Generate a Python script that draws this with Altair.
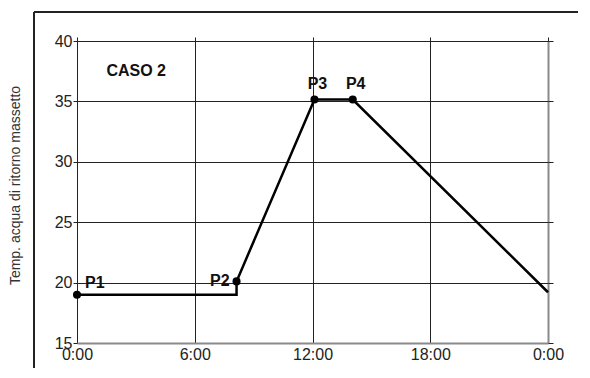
import altair as alt
import pandas as pd

# Curve (hours, temperature)
hours = [0, 8.13, 8.13, 12.1, 14.05, 24]
temps = [19, 19, 20.1, 35.15, 35.15, 19.2]

# Labelled points
pt_names = ["P1", "P2", "P3", "P4"]
pt_hours = [0, 8.13, 12.1, 14.05]
pt_temps = [19, 20.1, 35.15, 35.15]

x_ticks = [0, 6, 12, 18, 24]
x_labels = ["0:00", "6:00", "12:00", "18:00", "0:00"]
y_ticks = [15, 20, 25, 30, 35, 40]

case_label = "CASO 2"
case_hour, case_temp = 1.5, 37.5

FONT = "Liberation Sans, Arial, sans-serif"

line_df = pd.DataFrame({"h": hours, "t": temps})
pts_df = pd.DataFrame({"name": pt_names, "h": pt_hours, "t": pt_temps})
case_df = pd.DataFrame({"name": [case_label], "h": [case_hour], "t": [case_temp]})

label_expr = "{" + ",".join(f"'{v}':'{l}'" for v, l in zip(x_ticks, x_labels)) + "}[datum.value]"

xscale = alt.Scale(domain=[0, 24], nice=False, zero=False)
yscale = alt.Scale(domain=[15, 40], nice=False, zero=False)

grid_color = {"condition": {"test": "datum.value == 24 || datum.value == 15", "value": "#8a8a8a"}, "value": "#222222"}
grid_width = {"condition": {"test": "datum.value == 24 || datum.value == 15", "value": 2}, "value": 1}

line = alt.Chart(line_df).mark_line(color="black", strokeWidth=2.5).encode(
    x=alt.X("h:Q", scale=xscale, axis=alt.Axis(
        values=x_ticks, labelExpr=label_expr, grid=True, gridColor=grid_color, gridWidth=grid_width,
        gridOpacity=1, domain=False, ticks=False, labelPadding=3, labelFont=FONT, labelFontSize=16,
        labelColor="#222", title=None, labelFlush=False)),
    y=alt.Y("t:Q", scale=yscale, axis=alt.Axis(
        values=y_ticks, grid=True, gridColor=grid_color, gridWidth=grid_width, gridOpacity=1,
        domain=False, ticks=True, tickSize=4, tickColor="#222", labelPadding=1, labelFont=FONT,
        labelFontSize=16, labelColor="#222", title="Temp. acqua di ritorno massetto",
        titleFont=FONT, titleFontSize=14, titleFontWeight="normal", titleColor="#333",
        titleX=-62, titleY=144, titleAngle=-90, titleAlign="center", titleBaseline="middle")),
)

points = alt.Chart(pts_df).mark_circle(color="black", opacity=1, size=65).encode(
    x=alt.X("h:Q", scale=xscale, axis=alt.Axis(orient="top", values=x_ticks, labels=False, ticks=True,
                                                tickSize=4, tickColor="#222", domain=False, grid=False, title=None)),
    y=alt.Y("t:Q", scale=yscale, axis=alt.Axis(orient="right", values=y_ticks, labels=False, ticks=True,
                                                tickSize=5, tickColor="#222", domain=False, grid=False, title=None)),
)

def lbl(names, align, dx, dy):
    return alt.Chart(pts_df).transform_filter(
        alt.FieldOneOfPredicate(field="name", oneOf=names)
    ).mark_text(font=FONT, fontSize=16, fontWeight="bold", color="#111", align=align,
                baseline="middle", dx=dx, dy=dy).encode(
        x=alt.X("h:Q", scale=xscale, axis=None), y=alt.Y("t:Q", scale=yscale, axis=None), text="name:N")

p1 = lbl(["P1"], "left", 8, -12)
p2 = lbl(["P2"], "right", -7, 0)
p34 = lbl(["P3", "P4"], "center", 3, -16)

case = alt.Chart(case_df).mark_text(font=FONT, fontSize=16, fontWeight="bold", color="#111",
                                    align="left", baseline="middle").encode(
    x=alt.X("h:Q", scale=xscale, axis=None), y=alt.Y("t:Q", scale=yscale, axis=None), text="name:N")

frame_left = alt.Chart(case_df).mark_rule(color="#222", strokeWidth=2).encode(
    x=alt.value(-43), y=alt.value(-29), y2=alt.value(420))
frame_top = alt.Chart(case_df).mark_rule(color="#222", strokeWidth=2).encode(
    x=alt.value(-43), x2=alt.value(620), y=alt.value(-29))

chart = alt.layer(line, points, p1, p2, p34, case, frame_left, frame_top).resolve_axis(
    x="independent", y="independent"
).properties(
    width=471, height=302,
    autosize=alt.AutoSizeParams(type="none"),
    padding={"left": 69, "top": 33, "right": 30, "bottom": 25},
).configure_view(stroke=None).configure(background="white")

chart.save("out.html", embed_options={"renderer": "svg", "actions": False})
